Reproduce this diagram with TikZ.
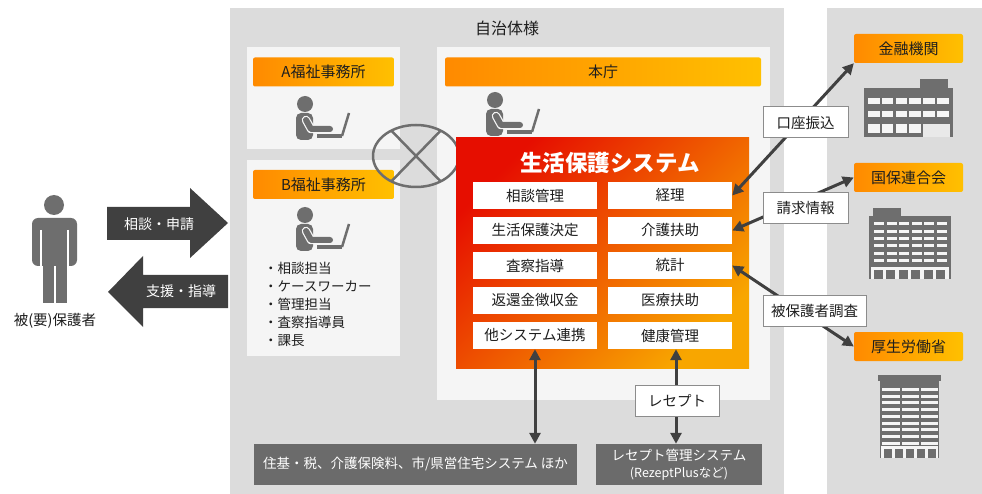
\documentclass[tikz,border=0pt]{standalone}
\usepackage{fontspec}
\setmainfont{Noto Sans CJK JP}
\usepackage{tikz}
\usetikzlibrary{arrows.meta}

\definecolor{panelgray}{HTML}{DCDCDC}
\definecolor{innergray}{HTML}{F5F5F5}
\definecolor{hdrleft}{HTML}{FF8A00}
\definecolor{hdrright}{HTML}{FFC000}
\definecolor{sysred}{HTML}{E60E00}
\definecolor{sysorange}{HTML}{F8A600}
\definecolor{icongray}{HTML}{6E6E6E}
\definecolor{darkarrow}{HTML}{404040}
\definecolor{boxgray}{HTML}{6B6B6B}
\definecolor{txt}{HTML}{1E1E1E}

\tikzstyle{hdr}=[left color=hdrleft, right color=hdrright, rounded corners=2pt, minimum height=29pt, inner sep=0pt, text=txt, font=\fontsize{15}{15}\selectfont]
\tikzstyle{cellbox}=[fill=white, minimum width=124pt, minimum height=27pt, inner sep=0pt, text=txt, font=\fontsize{14.5}{15}\selectfont]
\tikzstyle{tagbox}=[fill=white, draw=gray!90, line width=1pt, minimum height=31pt, inner sep=0pt, text=txt, font=\fontsize{14.5}{15}\selectfont]
\tikzstyle{extbox}=[fill=boxgray, text=white, minimum height=41pt, inner sep=0pt, align=center, font=\fontsize{13.5}{17}\selectfont]
\tikzstyle{linkarrow}=[draw=darkarrow, line width=3pt, <->, >={Triangle[length=11pt,width=11pt]}]

\tikzset{clerk/.pic={
		\fill[icongray] (0,0) circle (8);
		\fill[icongray, rounded corners=5pt] (-9,36) -- (-9,9) -- (8,9) -- (8,36) -- cycle;
		\draw[innergray, line width=8.5pt, line cap=round, line join=round] (1,16) -- (6,25) -- (25,25);
		\draw[icongray, line width=6pt, line cap=round, line join=round] (1,16) -- (6,25) -- (25,25);
		\draw[icongray, line width=3.5pt] (12,32) -- (37,32);
		\draw[icongray, line width=2.5pt] (37,32) -- (44,9);
	}}

\begin{document}
\begin{tikzpicture}[x=1pt, y=-1pt]
	\fill[white] (0,0) rectangle (982,494);
	\useasboundingbox (0,0) rectangle (982,494);

	% panels
	\fill[panelgray] (230,8) rectangle (784,494);
	\fill[panelgray] (827,8) rectangle (982,494);
	\node[font=\fontsize{16}{16}\selectfont, text=txt] (jichitai) at (507,28) {自治体様};

	\fill[innergray] (247,47) rectangle (400,149);
	\fill[innergray] (247,160) rectangle (400,356);
	\fill[innergray] (437,47) rectangle (770,400);

	\node[hdr, minimum width=141pt] (a) at (323.5,72) {A福祉事務所};
	\node[hdr, minimum width=141pt] (b) at (323.5,184.5) {B福祉事務所};
	\node[hdr, minimum width=316pt] (honcho) at (603,72) {本庁};

	\pic at (305,104) {clerk};
	\pic at (305,215) {clerk};
	\pic at (495,100) {clerk};

	\node[anchor=north west, align=left, inner sep=0pt, text=txt, font=\fontsize{13.5}{18}\selectfont] (staff) at (264,262) {・相談担当\\・ケースワーカー\\・管理担当\\・査察指導員\\・課長};

	% network
	\draw[icongray, line width=2.5pt] (416,156) ellipse (43 and 31);
	\draw[icongray, line width=2.5pt] (416,156) +(125:43 and 31) -- +(-55:43 and 31);
	\draw[icongray, line width=2.5pt] (416,156) +(55:43 and 31) -- +(-125:43 and 31);

	% system
	\node[top color=sysred, bottom color=sysorange, shading angle=45, minimum width=293pt, minimum height=230pt, inner sep=0pt] (sys) at (602.5,253) {};
	\node[text=white, font=\fontsize{22.5}{23}\selectfont\bfseries] (systitle) at (610,163) {生活保護システム};
	\foreach \t [count=\i] in {相談管理,生活保護決定,査察指導,返還金徴収金,他システム連携}
		\node[cellbox] (L\i) at (535,160.5+35*\i) {\t};
	\foreach \t [count=\i] in {経理,介護扶助,統計,医療扶助,健康管理}
		\node[cellbox] (R\i) at (670,160.5+35*\i) {\t};

	% outside
	\node[hdr, minimum width=109pt] (kinyu) at (908.5,48.5) {金融機関};
	\node[hdr, minimum width=109pt] (kokuho) at (908.5,177.5) {国保連合会};
	\node[hdr, minimum width=109pt] (kosei) at (908.5,346.5) {厚生労働省};

	\draw[linkarrow] (R1.east) -- (kinyu.south west);
	\draw[linkarrow] (R2.east) -- (kokuho.west);
	\draw[linkarrow] (R3.east) -- (kosei.west);
	\node[tagbox, minimum width=85pt] (koza) at (805.5,122.5) {口座振込};
	\node[tagbox, minimum width=85pt] (seikyu) at (805.5,208) {請求情報};
	\node[tagbox, minimum width=103pt] (chosa) at (814.5,311) {被保護者調査};

	\node[extbox, minimum width=323pt] (juki) at (415.5,464.5) {住基・税、介護保険料、市/県営住宅システム ほか};
	\node[extbox, minimum width=166pt] (rezept) at (679,464.5) {レセプト管理システム\\{\fontsize{12.5}{14}\selectfont (RezeptPlusなど)}};
	\draw[linkarrow] (L5.south) -- (L5.south |- juki.north);
	\draw[linkarrow] ([xshift=6pt]R5.south) -- ([xshift=6pt]R5.south |- rezept.north);
	\node[tagbox, minimum width=84pt] (recept) at (677,400.5) {レセプト};

	% buildings
	\fill[icongray] (864,88) rectangle (953,137);
	\fill[icongray] (920,79) rectangle (948,88);
	\foreach \r in {98,111}
		\foreach \c in {0,...,5}
			\fill[innergray] ({868+13.8*\c},\r) rectangle ++(11.5,6.5);
	\foreach \c in {0,...,3}
		\fill[innergray] ({868+13.8*\c},124) rectangle ++(11.5,9.5);
	\fill[innergray!90!gray] (923,124) rectangle (950,137);

	\fill[icongray] (869,216) rectangle (951,279);
	\fill[icongray] (873,208) rectangle (901,216);
	\foreach \r in {0,...,5}
		\foreach \c in {0,...,5}
			\fill[innergray] ({874+12.6*\c},{222.5+7.3*\r}) rectangle ++(10,3);
	\fill[innergray] (871,267) rectangle (949,279);
	\foreach \c in {0,...,5}
		\fill[icongray] ({874+12.4*\c},270) rectangle ++(9,9);

	\fill[icongray] (878,375) rectangle (941,381);
	\fill[icongray] (880,381) rectangle (939,458);
	\foreach \r in {0,...,8}
		\foreach \x/\w in {882/18,902/16.5,921/16.5}
			\fill[innergray] (\x,{388+6.7*\r}) rectangle ++(\w,3);
	\fill[innergray] (881,446) rectangle (938,458);
	\foreach \c in {0,...,4}
		\fill[icongray] ({884+11*\c},449) rectangle ++(8,9);

	% client
	\fill[icongray] (54,205) circle (10);
	\fill[icongray, rounded corners=6pt] (32,266) -- (32,218) -- (77,218) -- (77,266) -- cycle;
	\draw[white, line width=1.2pt] (41,230) -- (41,267);
	\draw[white, line width=1.2pt] (68,230) -- (68,267);
	\fill[icongray] (42.5,262) rectangle (54,303);
	\fill[icongray] (55.5,262) rectangle (67,303);
	\node[font=\fontsize{14.5}{15}\selectfont, text=txt] (client) at (55,321) {被(要)保護者};

	\fill[darkarrow] (107,207) -- (190,207) -- (190,188) -- (228,223) -- (190,258) -- (190,240) -- (107,240) -- cycle;
	\fill[darkarrow] (228,275) -- (143,275) -- (143,256) -- (108,292) -- (143,327) -- (143,308) -- (228,308) -- cycle;
	\node[text=white, font=\fontsize{14}{14}\selectfont] (req) at (159,224) {相談・申請};
	\node[text=white, font=\fontsize{14}{14}\selectfont] (sup) at (181,291) {支援・指導};
\end{tikzpicture}
\end{document}
